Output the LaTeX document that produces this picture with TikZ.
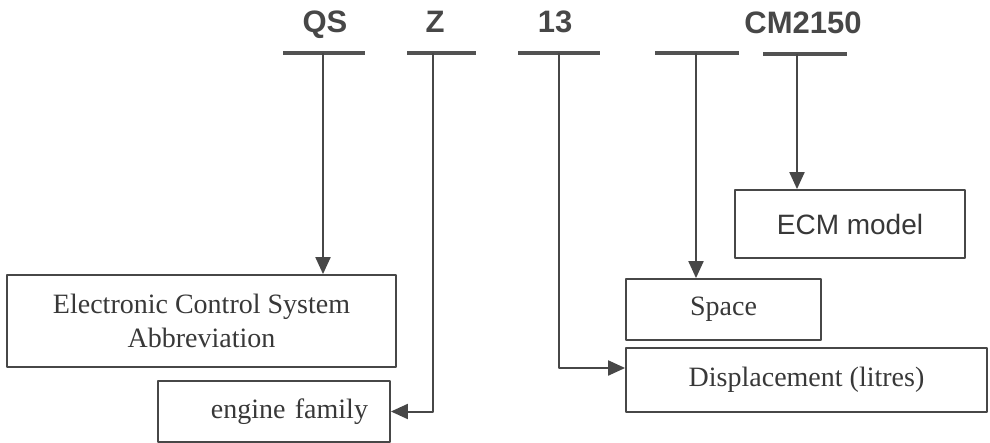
\documentclass[tikz,border=0pt]{standalone}
\usepackage{fontspec}
\setmainfont{Liberation Serif}
\setsansfont{Liberation Sans}
\usetikzlibrary{arrows.meta}

\begin{document}
\begin{tikzpicture}[x=0.5pt,y=-0.5pt,line join=bevel,
    code/.style={anchor=base,font=\sffamily\bfseries\fontsize{15.5}{18}\selectfont,text=black!72},
    bar/.style={line width=1.6pt,draw=black!68},
    box/.style={draw=black!72,line width=0.9pt,inner sep=0pt,align=center,
      font=\fontsize{14}{17}\selectfont,text=black!78},
    link/.style={draw=black!72,line width=1pt,-{Triangle[length=8.5pt,width=7.5pt]}}]
            \useasboundingbox (0,0) rectangle (990,443);

            % code letters
            \node[code] (qs) at (325,33) {QS};
            \node[code] (z) at (435,33) {Z};
            \node[code] (thirteen) at (555,33) {13};
            \node[code] (cm) at (803,34) {CM2150};

            % bars under the code
            \coordinate (qsA) at (283,53);  \coordinate (qsB) at (365,53);
            \coordinate (zA) at (407,53);   \coordinate (zB) at (476,53);
            \coordinate (thA) at (518,53);  \coordinate (thB) at (600,53);
            \coordinate (spA) at (655,53);  \coordinate (spB) at (739,53);
            \coordinate (cmA) at (763,54);  \coordinate (cmB) at (847,54);
            \draw [bar] (qsA) -- (qsB);
            \draw [bar] (zA) -- (zB);
            \draw [bar] (thA) -- (thB);
            \draw [bar] (spA) -- (spB);
            \draw [bar] (cmA) -- (cmB);

            \coordinate (dqs) at (323,53);
            \coordinate (dz) at (433,53);
            \coordinate (dth) at (559,53);
            \coordinate (dsp) at (696,53);
            \coordinate (dcm) at (797,54);

            % boxes
            \node[box,minimum width=194.5pt,minimum height=46pt] (ecs) at (201.5,321)
                {Electronic Control System\\Abbreviation};
            \node[box,minimum height=30.5pt,text width=94pt,inner xsep=11pt,align=right] (family) at (274,411.5)
                {engine family};
            \node[box,minimum width=97.5pt,minimum height=30.5pt] (space) at (723.5,309.5) {Space};
            \node[box,minimum width=180.5pt,minimum height=32pt] (displ) at (806.5,380)
                {Displacement (litres)};
            \node[box,font=\sffamily\fontsize{14}{17}\selectfont,minimum width=115pt,minimum height=34pt] (ecm) at (850,224)
                {ECM model};

            % arrows
            \draw [link] (dqs) -- (dqs |- ecs.north);
            \draw [link] (dz) |- (family.east);
            \draw [link] (dth) |- ([yshift=6pt]displ.west);
            \draw [link] (dsp) -- (dsp |- space.north);
            \draw [link] (dcm) -- (dcm |- ecm.north);
        \end{tikzpicture}
\end{document}
